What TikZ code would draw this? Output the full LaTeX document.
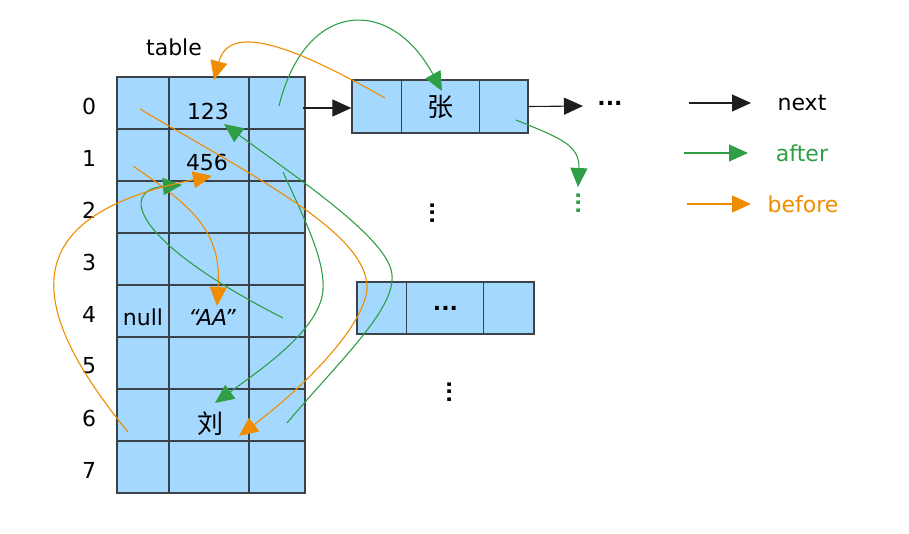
\documentclass[tikz,border=0pt]{standalone}
\usepackage{fontspec}
\setmainfont{DejaVu Sans}
\newfontfamily\cjk{Noto Sans CJK SC}
\usetikzlibrary{arrows.meta,positioning}
\definecolor{cellblue}{HTML}{A5D8FF}
\definecolor{edge}{HTML}{3B4249}
\definecolor{ink}{HTML}{1E1E1E}
\definecolor{aftergreen}{HTML}{2F9E44}
\definecolor{beforeorange}{HTML}{F08C00}

\begin{document}
\begin{tikzpicture}[
x=1pt, y=-1pt,
font=\fontsize{22}{26}\selectfont,
grid/.style={draw=edge, line width=1.3pt},
listbox/.style={draw=edge, fill=cellblue, line width=1.3pt, minimum width=176pt, minimum height=53pt, inner sep=0pt},
hanzi/.style={font=\fontsize{26}{30}\selectfont\cjk},
nextarrow/.style={-{Triangle[length=19pt,width=17pt]}, ink, line width=1.1pt},
afterarrow/.style={-{Triangle[length=19pt,width=17pt]}, aftergreen, line width=1.1pt},
beforearrow/.style={-{Triangle[length=19pt,width=17pt]}, beforeorange, line width=1.1pt},
vdots/.style={rotate=90, font=\fontsize{20}{20}\selectfont\bfseries}
]
\useasboundingbox (0,0) rectangle (909,534);

% hash table
\draw[grid, fill=cellblue] (117,77) rectangle (305,493);
\foreach \x in {169,249} \draw[grid] (\x,77) -- (\x,493);
\foreach \i in {1,...,7} \draw[grid] (117,77+52*\i) -- (305,77+52*\i);
\foreach \i in {0,...,7} \node (row\i) at (89,106+52*\i) {\i};
\node (table) at (174,47) {table};
\node (n123) at (208,111) {123};
\node (n456) at (207,162) {456};
\node (nnull) at (143,317) {null};
\node (naa) at (212,317) {\itshape “AA”};
\node[hanzi] (nliu) at (210,424) {刘};

% bucket lists
\node[listbox, hanzi] (zhang) at (440,106.5) {张};
\draw[grid] ([xshift=50pt]zhang.north west) -- ([xshift=50pt]zhang.south west);
\draw[grid] ([xshift=128pt]zhang.north west) -- ([xshift=128pt]zhang.south west);
\node[listbox, minimum width=177pt, minimum height=52pt] (box2) at (445.5,308) {\textbf{...}};
\draw[grid] ([xshift=50pt]box2.north west) -- ([xshift=50pt]box2.south west);
\draw[grid] ([xshift=127pt]box2.north west) -- ([xshift=127pt]box2.south west);
\node (more) at (610,103) {\textbf{...}};
\node[vdots] (vd1) at (433,213) {...};
\node[vdots] (vd2) at (450,392) {...};
\node[vdots, aftergreen] (vd3) at (579,203) {...};

% next links
\coordinate (t0) at (303,108);
\draw[nextarrow] (t0) -- (t0 -| zhang.west);
\coordinate (zmore) at (583,106);
\draw[nextarrow] (zhang.east) -- (zmore);

% after / before links
\coordinate (g1s) at (279,106);
\coordinate (g1e) at (442,91);
\draw[afterarrow] (g1s) .. controls (305,0) and (390,-5) .. (g1e);
\coordinate (o1s) at (385,98);
\coordinate (o1e) at (214,80);
\draw[beforearrow] (o1s) .. controls (300,50) and (230,20) .. (o1e);
\coordinate (o2s) at (133,166);
\coordinate (o2e) at (217,306);
\draw[beforearrow] (o2s) .. controls (190,205) and (222,230) .. (o2e);
\coordinate (g2s) at (283,318);
\coordinate (g2e) at (182,185);
\draw[afterarrow] (g2s) .. controls (130,240) and (120,190) .. (g2e);
\coordinate (o3s) at (128,432);
\coordinate (o3e) at (212,176);
\draw[beforearrow] (o3s) .. controls (20,300) and (20,215) .. (o3e);
\coordinate (g3s) at (283,172);
\coordinate (g3e) at (215,403);
\draw[afterarrow] (g3s) .. controls (305,220) and (325,260) .. (323,290) .. controls (320,330) and (260,370) .. (g3e);
\coordinate (g4s) at (287,423);
\coordinate (g4e) at (224,124);
\draw[afterarrow] (g4s) .. controls (340,360) and (395,310) .. (392,275) .. controls (390,240) and (300,180) .. (g4e);
\coordinate (o4s) at (140,109);
\coordinate (o4e) at (239,436);
\draw[beforearrow] (o4s) .. controls (260,180) and (370,235) .. (367,290) .. controls (362,330) and (300,390) .. (o4e);
\coordinate (zs) at (516,120);
\coordinate (ze) at (578,187);
\draw[afterarrow] (zs) .. controls (560,138) and (580,145) .. (ze);

% legend
\node (lnext) at (802,103) {next};
\node[aftergreen] (lafter) at (802,153) {after};
\node[beforeorange] (lbefore) at (803,204) {before};
\coordinate (k1s) at (689,103);
\coordinate (k1e) at (751,103);
\draw[nextarrow] (k1s) -- (k1e);
\coordinate (k2s) at (684,153);
\coordinate (k2e) at (748,153);
\draw[afterarrow] (k2s) -- (k2e);
\coordinate (k3s) at (687,204);
\coordinate (k3e) at (751,204);
\draw[beforearrow] (k3s) -- (k3e);
\end{tikzpicture}
\end{document}
